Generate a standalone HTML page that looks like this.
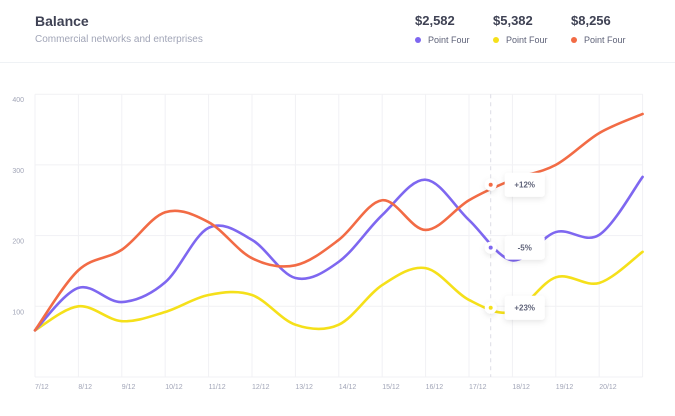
<!DOCTYPE html>
<html><head><meta charset="utf-8"><style>
body{margin:0;background:#fff;font-family:"Liberation Sans",sans-serif;}
.wrap{position:relative;width:675px;height:416px;overflow:hidden}
.t{position:absolute;white-space:nowrap}
</style></head><body>
<div class="wrap">
<div class="t" style="left:35px;top:13px;font-size:14px;font-weight:bold;color:#3f4254">Balance</div>
<div class="t" style="left:35px;top:34px;font-size:10px;color:#a1a5b7">Commercial networks and enterprises</div>
<div class="t" style="left:415px;top:13px;font-size:13px;font-weight:bold;color:#3f4254">$2,582</div>
<div class="t" style="left:493px;top:13px;font-size:13px;font-weight:bold;color:#3f4254">$5,382</div>
<div class="t" style="left:571px;top:13px;font-size:13px;font-weight:bold;color:#3f4254">$8,256</div>
<div class="t" style="left:415px;top:35px;font-size:9px;color:#5e6278"><span style="display:inline-block;width:6px;height:6px;border-radius:3px;background:#7e67f0;margin-right:7px"></span>Point Four</div>
<div class="t" style="left:493px;top:35px;font-size:9px;color:#5e6278"><span style="display:inline-block;width:6px;height:6px;border-radius:3px;background:#f5e01a;margin-right:7px"></span>Point Four</div>
<div class="t" style="left:571px;top:35px;font-size:9px;color:#5e6278"><span style="display:inline-block;width:6px;height:6px;border-radius:3px;background:#f26b45;margin-right:7px"></span>Point Four</div>
<div style="position:absolute;left:0;top:62px;width:675px;height:1px;background:#eff2f5"></div>
<svg id="chart" width="675" height="416" style="position:absolute;left:0;top:0">
<defs><filter id="sh" x="-50%" y="-50%" width="200%" height="200%"><feDropShadow dx="0" dy="2" stdDeviation="3" flood-color="#000" flood-opacity="0.1"/></filter></defs>
</svg>
</div>
<script>
const categories=["7/12","8/12","9/12","10/12","11/12","12/12","13/12","14/12","15/12","16/12","17/12","18/12","19/12","20/12",""];
const yTicks=[100,200,300,400];
const orange=[66,151,180,233,219,168,158,194,250,208,250,279,300,345,372];
const purple=[66,126,106,134,211,194,140,163,229,279,222,165,205,201,283];
const yellow=[66,100,79,92,116,116,74,74,130,154,109,92,141,133,177];
const markerIndex=10.5;
const markerValues=[272,183,98];
const markerLabels=["+12%","-5%","+23%"];
const svg=document.getElementById('chart');
const NS='http://www.w3.org/2000/svg';
const x=i=>35+i*43.4;
const y=v=>377-v*0.707;
function mk(t,a){const e=document.createElementNS(NS,t);for(const k in a)e.setAttribute(k,a[k]);svg.appendChild(e);return e;}
// grid
for(let i=0;i<categories.length;i++){
 const l=mk('line',{x1:x(i),x2:x(i),y1:y(400),y2:377,stroke:'#f1f1f4','stroke-width':1});
 
 
 if(categories[i]){const t=mk('text',{x:x(i),y:389,'font-size':7,fill:'#a1a5b7'});t.textContent=categories[i];
 
 }
}
const base=mk('line',{x1:35,x2:x(14),y1:377,y2:377,stroke:'#f1f1f4'});


yTicks.forEach(v=>{
 const l=mk('line',{x1:35,x2:x(14),y1:y(v),y2:y(v),stroke:'#f1f1f4'});
 
 
 const t=mk('text',{x:24,y:y(v)+8,'font-size':7,fill:'#a1a5b7','text-anchor':'end'});t.textContent=v;
 
 
});
const dl=mk('line',{x1:x(markerIndex),x2:x(markerIndex),y1:y(400),y2:377,stroke:'#dcdce4','stroke-dasharray':'4 4'});


function path(d){
 const p=d.map((v,i)=>[x(i),y(v)]);let s='M'+p[0][0]+','+p[0][1];
 for(let i=0;i<p.length-1;i++){const p0=p[i-1]||p[i],p1=p[i],p2=p[i+1],p3=p[i+2]||p2;
  s+=` C${p1[0]+(p2[0]-p0[0])/6},${p1[1]+(p2[1]-p0[1])/6} ${p2[0]-(p3[0]-p1[0])/6},${p2[1]-(p3[1]-p1[1])/6} ${p2[0]},${p2[1]}`;}
 return s;}
const series=[[orange,'#f26b45','orange'],[purple,'#7e67f0','purple'],[yellow,'#f5e01a','yellow']];
[series[2],series[1],series[0]].forEach(([d,c,n])=>{
 const e=mk('path',{d:path(d),fill:'none',stroke:c,'stroke-width':2.6,'stroke-linecap':'round'});
 
 
});
series.forEach(([d,c,n],k)=>{
 const cx=x(markerIndex),cy=y(markerValues[k]);
 const r=mk('rect',{x:cx+14,y:cy-12,width:40,height:24,rx:3,fill:'#fff',filter:'url(#sh)'});
 
 
 const t=mk('text',{x:cx+34,y:cy+3,'font-size':8,'font-weight':'bold',fill:'#5e6278','text-anchor':'middle'});t.textContent=markerLabels[k];
 
 
 const o=mk('circle',{cx:cx,cy:cy,r:6,fill:'#fff',filter:'url(#sh)'});
 
 
 const i=mk('circle',{cx:cx,cy:cy,r:2,fill:c});
 
 
});
</script>
</body></html>
